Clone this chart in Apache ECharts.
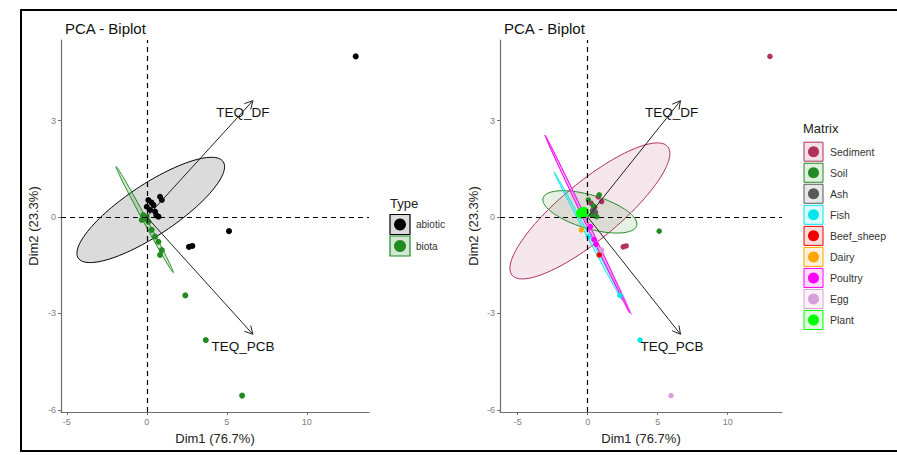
<!DOCTYPE html>
<html><head><meta charset="utf-8">
<script src="https://cdn.jsdelivr.net/npm/echarts@6/dist/echarts.min.js"></script>
<style>html,body{margin:0;padding:0;background:#fff}#c{width:897px;height:455px}</style>
</head><body><div id="c"></div>
<script>
// ---- tick labels & axis ranges ----
const xTicks = [-5, 0, 5, 10];
const yTicks = [-6, -3, 0, 3];
const xRangeLeft = [-5.36, 13.89];
const xRangeRight = [-6.26, 13.88];
const yRange = [-6.07, 5.51];
const xTitle = 'Dim1 (76.7%)';
const yTitle = 'Dim2 (23.3%)';
const chartTitle = 'PCA - Biplot';

// ---- left panel: Type ----
const typeNames = ['abiotic', 'biota'];
const typeColors = ['#000000', '#228B22'];
const abioticPts = [[13.06,5.0],[5.14,-0.44],[2.64,-0.93],[2.85,-0.9],[0.1,0.53],[0.83,0.63],[0.94,0.53],[0.21,0.22],[0.52,0.17],[0.73,0.01],[0.0,0.32],[0.42,0.37],[0.3,0.45],[0.6,0.05]];
const biotaPts = [[2.41,-2.44],[3.69,-3.83],[5.96,-5.56],[-0.21,0.06],[-0.31,-0.09],[0.1,-0.15],[0.31,-0.4],[0.52,-0.61],[0.73,-0.77],[0.94,-1.03],[0.83,-1.18],[0.0,0.0],[-0.1,-0.05]];
// ellipse: [cx, cy, ux, uy, vx, vy]
const abioticEllipse = [0.25, 0.22, 4.53, 1.50, 0.88, -0.66];
const biotaEllipse = [-0.13, -0.08, 1.79, -1.65, 0.11, 0.03];

// ---- right panel: Matrix ----
const matrixNames = ['Sediment','Soil','Ash','Fish','Beef_sheep','Dairy','Poultry','Egg','Plant'];
const matrixColors = ['#B03060','#228B22','#595959','#00E5EE','#EE0000','#FFA500','#FF00FF','#D8A0D8','#00FF00'];
const sedimentPts = [[13.02,5.0],[2.54,-0.93],[2.75,-0.9],[0.76,0.63],[0.24,0.43],[1.0,0.48],[0.5,0.3]];
const soilPts = [[5.11,-0.44],[0.05,0.53],[0.83,0.69],[0.64,0.01],[0.29,0.06],[0.4,0.35]];
const ashPts = [[0.35,0.2],[0.55,0.15]];
const fishPts = [[2.31,-2.44],[3.74,-3.83],[0.05,-0.61]];
const beefPts = [[0.83,-1.18]];
const dairyPts = [[-0.45,-0.4]];
const poultryPts = [[0.2,-0.3],[0.45,-0.7],[0.6,-0.85]];
const eggPts = [[5.95,-5.56],[1.0,-1.03]];
const plantPts = [[-0.43,0.12],[-0.3,0.15]];
const matrixPts = [sedimentPts, soilPts, ashPts, fishPts, beefPts, dairyPts, poultryPts, eggPts, plantPts];
const sedimentEllipse = [0.16, 0.19, 5.56, 2.0, 1.31, -0.695];
const soilEllipse = [0.16, 0.16, 3.34, -0.43, -0.33, -0.50];
const fishEllipse = [0.05, -0.6, 2.45, -2.0, 0.08, 0.016];
const poultryEllipse = [-0.02, -0.22, 3.03, -2.77, 0.09, 0.019];
const eggEllipse = [0.1, -0.3, 3.05, -2.75, 0.08, 0.016];

// ---- loadings (arrows) ----
const loadingNames = ['TEQ_DF', 'TEQ_PCB'];
const loadingX = [6.63, 6.63];
const loadingY = [3.62, -3.65];
const loadingLabelX = [6.0, 6.02];
const loadingLabelY = [3.25, -4.02];

const FONT = 'Liberation Sans, Arial, sans-serif';

function rgba(hex, a) {
  const n = parseInt(hex.slice(1), 16);
  return 'rgba(' + ((n >> 16) & 255) + ',' + ((n >> 8) & 255) + ',' + (n & 255) + ',' + a + ')';
}

function ellipseSeries(idx, params, color, alpha, z) {
  return {
    type: 'custom', xAxisIndex: idx, yAxisIndex: idx, z: z, silent: true,
    data: [params],
    renderItem: function (p, api) {
      const c = params, pts = [];
      for (let i = 0; i < 120; i++) {
        const t = i / 120 * Math.PI * 2;
        pts.push(api.coord([c[0] + c[2] * Math.cos(t) + c[4] * Math.sin(t), c[1] + c[3] * Math.cos(t) + c[5] * Math.sin(t)]));
      }
      return { type: 'polygon', shape: { points: pts }, style: { fill: rgba(color, alpha), stroke: color, lineWidth: 1 } };
    }
  };
}

function arrowSeries(idx) {
  const data = loadingNames.map((n, i) => [loadingX[i], loadingY[i], loadingLabelX[i], loadingLabelY[i]]);
  return {
    type: 'custom', xAxisIndex: idx, yAxisIndex: idx, z: 10, silent: true,
    data: data,
    renderItem: function (p, api) {
      const i = p.dataIndex;
      const o = api.coord([0, 0]);
      const e = api.coord([api.value(0), api.value(1)]);
      const l = api.coord([api.value(2), api.value(3)]);
      const ang = Math.atan2(e[1] - o[1], e[0] - o[0]);
      const hl = 9, ha = 0.5;
      const h1 = [e[0] - hl * Math.cos(ang - ha), e[1] - hl * Math.sin(ang - ha)];
      const h2 = [e[0] - hl * Math.cos(ang + ha), e[1] - hl * Math.sin(ang + ha)];
      return {
        type: 'group', children: [
          { type: 'line', shape: { x1: o[0], y1: o[1], x2: e[0], y2: e[1] }, style: { stroke: '#222', lineWidth: 1 } },
          { type: 'polyline', shape: { points: [h1, e, h2] }, style: { stroke: '#222', lineWidth: 1, fill: null } },
          { type: 'text', x: l[0], y: l[1], style: { text: loadingNames[i], fill: '#111', fontSize: 13.5, fontFamily: FONT, align: 'center', verticalAlign: 'middle' } }
        ]
      };
    }
  };
}

function scatterSeries(idx, name, pts, color, size, z, withLines) {
  const s = {
    type: 'scatter', name: name, xAxisIndex: idx, yAxisIndex: idx, z: z,
    data: pts, symbolSize: size, itemStyle: { color: color, opacity: 1 }, silent: true
  };
  if (withLines) {
    s.markLine = {
      silent: true, symbol: ['none', 'none'], label: { show: false },
      lineStyle: { type: [5, 4], color: '#000', width: 1.2 },
      data: [{ xAxis: 0 }, { yAxis: 0 }]
    };
  }
  return s;
}

function makeXAxis(idx, range) {
  return {
    gridIndex: idx, type: 'value', min: range[0], max: range[1],
    axisLine: { show: true, onZero: false, lineStyle: { color: '#6e6e6e', width: 1.2 } },
    axisTick: { show: true, customValues: xTicks, length: 3, lineStyle: { color: '#6e6e6e' } },
    axisLabel: { customValues: xTicks, fontSize: 9, color: '#808080', margin: 5, fontFamily: FONT },
    splitLine: { show: false },
    name: xTitle, nameLocation: 'middle', nameGap: 19.5,
    nameTextStyle: { fontSize: 13, color: '#222', fontFamily: FONT }
  };
}
function makeYAxis(idx, gap) {
  return {
    gridIndex: idx, type: 'value', min: yRange[0], max: yRange[1],
    axisLine: { show: true, onZero: false, lineStyle: { color: '#6e6e6e', width: 1.2 } },
    axisTick: { show: true, customValues: yTicks, length: 3, lineStyle: { color: '#6e6e6e' } },
    axisLabel: { customValues: yTicks, fontSize: 9, color: '#808080', margin: 5, fontFamily: FONT },
    splitLine: { show: false },
    name: yTitle, nameLocation: 'middle', nameGap: gap, nameRotate: 90,
    nameTextStyle: { fontSize: 13, color: '#222', fontFamily: FONT }
  };
}

const series = [];
// left panel
series.push(ellipseSeries(0, abioticEllipse, typeColors[0], 0.14, 1));
series.push(ellipseSeries(0, biotaEllipse, typeColors[1], 0.2, 1));
series.push(scatterSeries(0, typeNames[0], abioticPts, typeColors[0], 6, 3, true));
series.push(scatterSeries(0, typeNames[1], biotaPts, typeColors[1], 6, 3, false));
series.push(arrowSeries(0));
// right panel
series.push(ellipseSeries(1, sedimentEllipse, matrixColors[0], 0.12, 1));
series.push(ellipseSeries(1, soilEllipse, matrixColors[1], 0.12, 1));
series.push(ellipseSeries(1, fishEllipse, matrixColors[3], 0.2, 1));
series.push(ellipseSeries(1, eggEllipse, matrixColors[7], 0.2, 1));
series.push(ellipseSeries(1, poultryEllipse, matrixColors[6], 0.2, 1));
matrixNames.forEach((n, i) => {
  series.push(scatterSeries(1, n, matrixPts[i], matrixColors[i], n === 'Plant' ? 11 : 5.5, 3, i === 0));
});
series.push(arrowSeries(1));

// legends and frame as graphics
const graphic = [
  { type: 'rect', shape: { x: 21, y: 10, width: 900, height: 441 }, style: { fill: 'none', stroke: '#000', lineWidth: 2 }, z: 100 },
  { type: 'text', x: 390, y: 203, style: { text: 'Type', fontSize: 13, fill: '#222', fontFamily: FONT, verticalAlign: 'middle' } },
  { type: 'text', x: 803, y: 128, style: { text: 'Matrix', fontSize: 13, fill: '#222', fontFamily: FONT, verticalAlign: 'middle' } }
];
typeNames.forEach((n, i) => {
  const cy = 224.5 + i * 21.5;
  graphic.push({ type: 'rect', shape: { x: 390, y: cy - 10, width: 20, height: 20 }, style: { fill: rgba(typeColors[i], i === 0 ? 0.14 : 0.2), stroke: typeColors[i], lineWidth: 1.2 } });
  graphic.push({ type: 'circle', shape: { cx: 400, cy: cy, r: 6 }, style: { fill: typeColors[i] } });
  graphic.push({ type: 'text', x: 416, y: cy, style: { text: n, fontSize: 10, fill: '#333', fontFamily: FONT, verticalAlign: 'middle' } });
});
matrixNames.forEach((n, i) => {
  const cy = 151.7 + i * 21.04;
  graphic.push({ type: 'rect', shape: { x: 804, y: cy - 9.5, width: 19, height: 19 }, style: { fill: rgba(matrixColors[i], 0.14), stroke: matrixColors[i], lineWidth: 1 } });
  graphic.push({ type: 'circle', shape: { cx: 813.5, cy: cy, r: 5.5 }, style: { fill: matrixColors[i] } });
  graphic.push({ type: 'text', x: 830, y: cy, style: { text: n, fontSize: 10.5, fill: '#333', fontFamily: FONT, verticalAlign: 'middle' } });
});

const chart = echarts.init(document.getElementById('c'), null, { renderer: 'svg' });
chart.setOption({
  backgroundColor: '#fff',
  animation: false,
  title: [
    { text: chartTitle, left: 60, top: 16, textStyle: { fontSize: 15, fontWeight: 'normal', color: '#111', fontFamily: FONT } },
    { text: chartTitle, left: 499, top: 16, textStyle: { fontSize: 15, fontWeight: 'normal', color: '#111', fontFamily: FONT } }
  ],
  grid: [
    { left: 61, top: 40, width: 308, height: 372, containLabel: false, outerBoundsMode: 'none' },
    { left: 500, top: 40, width: 282, height: 372, containLabel: false, outerBoundsMode: 'none' }
  ],
  xAxis: [makeXAxis(0, xRangeLeft), makeXAxis(1, xRangeRight)],
  yAxis: [makeYAxis(0, 21.5), makeYAxis(1, 20.5)],
  series: series,
  graphic: graphic
});
</script></body></html>
